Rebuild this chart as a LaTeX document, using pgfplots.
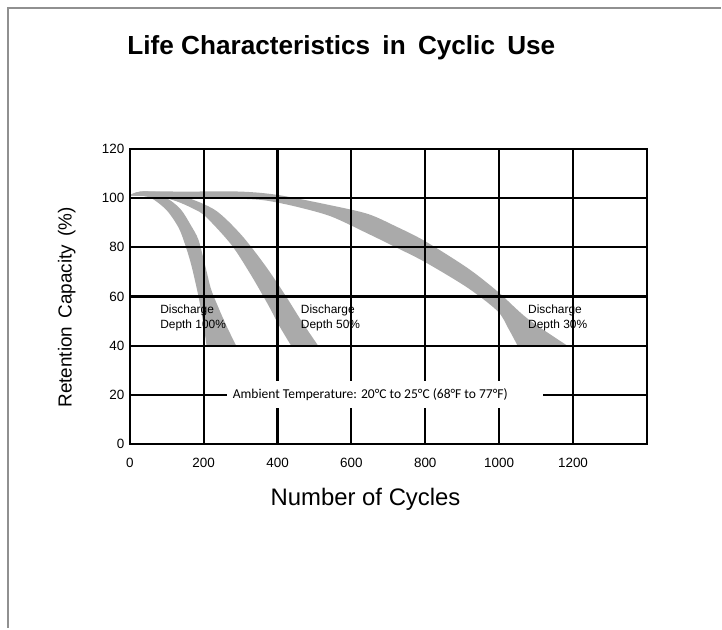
\documentclass[border=0pt]{standalone}
\usepackage{pgfplots}
\pgfplotsset{compat=1.18}
\usepgfplotslibrary{fillbetween}
\usepackage{fontspec}
\setmainfont{Liberation Sans}
\newfontfamily\calibri{Carlito}
\definecolor{band}{HTML}{AAAAAA}
\definecolor{framegray}{HTML}{909090}
\begin{document}
\begin{tikzpicture}
\path (0,0) rectangle (722bp,629bp);
\draw[framegray, line width=2.5bp] (8bp,0) -- (8bp,621bp) -- (722bp,621bp);
\node[font=\fontsize{26.3}{31}\selectfont\bfseries] at (342bp,581bp) {Life Characteristics\hspace{5bp} in\hspace{5bp} Cyclic\hspace{5bp} Use};
\begin{axis}[
  at={(130bp,184bp)}, anchor=south west, scale only axis,
  width=518bp, height=296bp,
  xmin=0, xmax=1400, ymin=0, ymax=120,
  xtick={0,200,...,1400},
  xticklabels={0,200,400,600,800,1000,1200,},
  ytick={0,20,...,120},
  grid=major,
  major grid style={black, line width=2.2bp},
  axis line style={black, line width=2.2bp},
  major tick length=0pt,
  axis on top,
  tick label style={font=\fontsize{13.5}{16}\selectfont},
  /pgf/number format/assume math mode=true,
  xticklabel style={yshift=-10bp},
  yticklabel style={xshift=-2bp},
  xlabel={Number of Cycles},
  ylabel={Retention\hspace{3bp} Capacity\hspace{3bp} (\%)},
  xlabel style={font=\fontsize{24}{28}\selectfont, at={(axis description cs:0.456,-0.186)}, anchor=center},
  ylabel style={font=\fontsize{19}{22}\selectfont, at={(axis description cs:-0.122,0.463)}, anchor=center},
]
% Band 100%
\addplot[name path=A1, draw=none, smooth] coordinates {(0,101) (30,102.6) (70,102) (110,99) (140,95) (165,89) (186,83) (205,72) (220,63) (240,55.5) (262,48) (288,40)};
\addplot[name path=B1, draw=none, smooth] coordinates {(0,101) (30,101) (60,99.8) (100,95) (132,88) (150,81) (167,72.5) (186,60) (198,50) (208,40)};
\addplot[band, draw=none] fill between[of=A1 and B1];
% Band 50%
\addplot[name path=A2, draw=none, smooth] coordinates {(0,101) (30,102.6) (100,102.2) (150,100.5) (232,95) (302,85) (367,72.5) (421,60.5) (465,50) (510,40)};
\addplot[name path=B2, draw=none, smooth] coordinates {(0,101) (80,100.3) (124,98.8) (170,95.8) (205,92.5) (275,81) (329,68.5) (375,56.5) (405,48) (437,40)};
\addplot[band, draw=none] fill between[of=A2 and B2];
% Band 30%
\addplot[name path=A3, draw=none, smooth] coordinates {(0,101) (30,102.6) (150,102.6) (300,102.6) (402,101.2) (545,97) (645,93.5) (720,88.5) (799,82.5) (915,71.5) (996,62) (1077,51) (1185,40)};
\addplot[name path=B3, draw=none, smooth] coordinates {(0,101) (150,100.4) (300,99.7) (367,99) (450,96.5) (545,92.5) (645,85.5) (720,80) (799,74) (915,63.5) (996,54) (1025,47) (1050,40)};
\addplot[band, draw=none] fill between[of=A3 and B3];
\node[anchor=west, align=left, font=\fontsize{12}{15}\selectfont] at (axis cs:73,51.3) {Discharge\\Depth 100\%};
\node[anchor=west, align=left, font=\fontsize{12}{15}\selectfont] at (axis cs:454,51.3) {Discharge\\Depth 50\%};
\node[anchor=west, align=left, font=\fontsize{12}{15}\selectfont] at (axis cs:1069,51.3) {Discharge\\Depth 30\%};
\begin{pgfonlayer}{axis foreground}
\fill[white] (axis cs:262,14.8) rectangle (axis cs:1118,25.7);
\node[font=\calibri\fontsize{13.6}{16}\selectfont] at (axis cs:651,20) {Ambient Temperature: 20°C to 25°C (68°F to 77°F)};
\end{pgfonlayer}
\end{axis}
\end{tikzpicture}
\end{document}
